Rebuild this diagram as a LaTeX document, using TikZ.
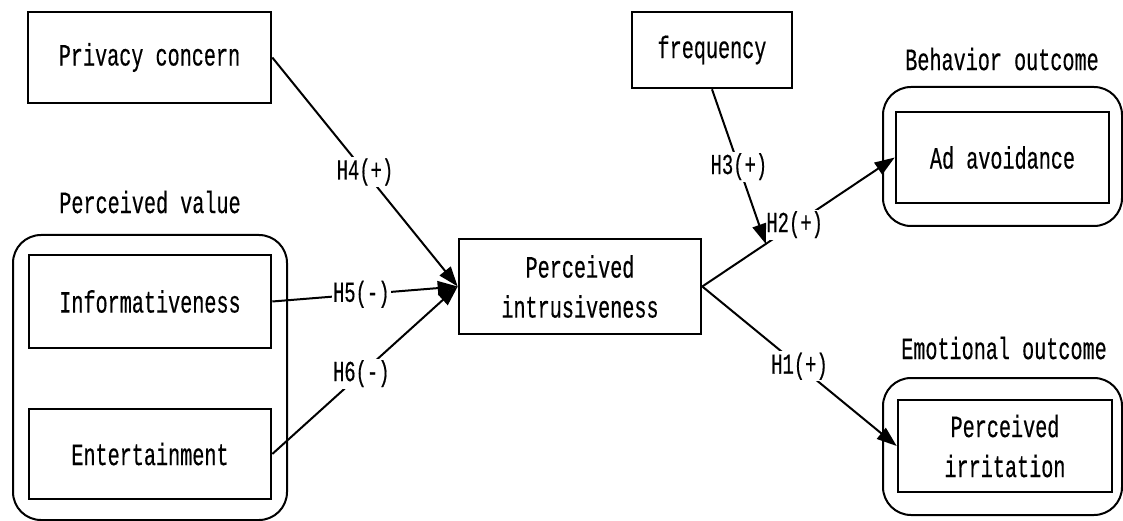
\documentclass[tikz,border=0pt]{standalone}
\usepackage{fontspec}
\newfontfamily\dfont[FakeStretch=0.65,FakeBold=0.4]{Liberation Mono}
\usetikzlibrary{arrows.meta,calc}
\begin{document}
\begin{tikzpicture}[x=1pt,y=-1pt,
  box/.style={draw, line width=2.6pt, inner sep=0pt, align=center,
    font=\dfont\fontsize{31}{40}\selectfont},
  group/.style={draw, line width=2pt, rounded corners=28pt, inner sep=0pt},
  lab/.style={font=\dfont\fontsize{31}{40}\selectfont, align=center, inner sep=0pt},
  hl/.style={font=\dfont\fontsize{29}{30}\selectfont, fill=white, inner sep=1.5pt},
  conn/.style={line width=2pt},
  arr/.style={conn, -{Triangle[length=20pt,width=14pt]}}]
\useasboundingbox (0,0) rectangle (1123,521);
% groups
\node[group, minimum width=274pt, minimum height=285pt] (pvg) at (150,377.5) {};
\node[group, minimum width=239pt, minimum height=139pt] (adg) at (1002.5,156.5) {};
\node[group, minimum width=239pt, minimum height=137pt] (irg) at (1002.5,446.5) {};
% group labels
\node[lab] (pvl) at (150,202) {Perceived value};
\node[lab] (adl) at (1002,59) {Behavior outcome};
\node[lab] (irl) at (1004,348) {Emotional outcome};
% boxes
\node[box, minimum width=243pt, minimum height=91pt] (pc) at (149.5,57.5) {Privacy concern};
\node[box, minimum width=242pt, minimum height=93pt] (inf) at (150,301.5) {Informativeness};
\node[box, minimum width=242pt, minimum height=90pt] (ent) at (150,454) {Entertainment};
\node[box, minimum width=242pt, minimum height=95pt] (pi) at (580,286.5) {Perceived\\intrusiveness};
\node[box, minimum width=160pt, minimum height=76pt] (fr) at (712,50) {frequency};
\node[box, minimum width=213pt, minimum height=91pt] (ad) at (1002.5,157.5) {Ad avoidance};
\node[box, minimum width=214pt, minimum height=92pt] (ir) at (1005,446) {Perceived\\irritation};
% connectors
\draw[arr] (pc.east) -- node[hl, pos=0.5] {H4(+)} (pi.west);
\draw[arr] (inf.east) -- node[hl, pos=0.48] {H5(-)} (pi.west);
\draw[arr] (ent.east) -- node[hl, pos=0.48] {H6(-)} (pi.west);
\draw[arr] (pi.east) -- node[hl, pos=0.48] {H2(+)} (ad.west);
\draw[arr] (pi.east) -- node[hl, pos=0.5] {H1(+)} (ir.west);
\coordinate (m) at ($(pi.east)!0.33!(ad.west)$);
\draw[arr] (fr.south) -- node[hl, pos=0.5] {H3(+)} (m);
\end{tikzpicture}
\end{document}
